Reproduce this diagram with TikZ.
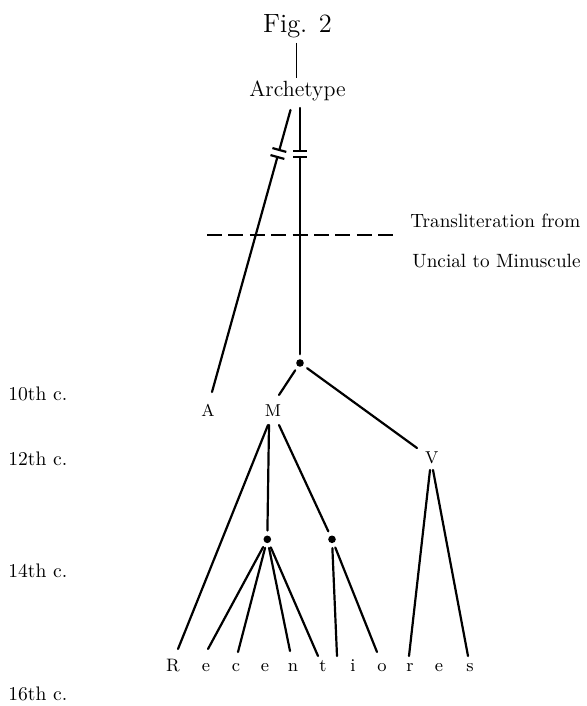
\documentclass[tikz,border=0pt]{standalone}
\usetikzlibrary{calc}
\tikzset{
  lbl/.style={inner sep=0pt, anchor=base},
  side/.style={inner sep=0pt, anchor=base west, font=\fontsize{9.8}{11}\selectfont},
  note/.style={inner sep=0pt, anchor=base west, font=\fontsize{9.6}{11}\selectfont},
  ms/.style={lbl, font=\fontsize{8.6}{10}\selectfont},
  leaf/.style={lbl, font=\fontsize{9}{10}\selectfont},
  wire/.style={line width=1.1pt, line cap=round},
  thinwire/.style={line width=0.7pt},
  brk/.style={line width=1.1pt},
  dashline/.style={line width=0.75pt, dash pattern=on 7.5pt off 3.2pt},
  knot/.style={circle, fill, inner sep=0pt, minimum size=3.8pt, outer sep=2.5pt},
}
\begin{document}
\begin{tikzpicture}[x=0.5pt,y=-0.5pt]
\useasboundingbox (0,0) rectangle (587,706);

% titles
\node[lbl, font=\fontsize{13.2}{15}\selectfont] (fig) at (297.5,33) {Fig. 2};
\node[lbl, font=\fontsize{11}{13}\selectfont] (arch) at (297.5,97) {Archetype};

% century scale
\node[side] (c10) at (8,400) {10th c.};
\node[side] (c12) at (8,465) {12th c.};
\node[side] (c14) at (8,577) {14th c.};
\node[side] (c16) at (8,700) {16th c.};

% transliteration note
\node[note] (tr1) at (410,227) {Transliteration from};
\node[note] (tr2) at (412,267) {Uncial to Minuscule};
\draw[dashline] (207,235) -- (393,235);

% manuscripts
\node[ms] (A) at (208,416) {A};
\node[ms] (M) at (273,416) {M};
\node[ms] (V) at (431.7,463) {V};

% hyparchetypes
\node[knot] (d1) at (300,363) {};
\node[knot] (d2) at (267.3,539.3) {};
\node[knot] (d3) at (332,539.3) {};

% recentiores
\node[leaf] (R)  at (173,671) {R};
\node[leaf] (e1) at (206,671) {e};
\node[leaf] (c)  at (236,671) {c};
\node[leaf] (e2) at (265,671) {e};
\node[leaf] (n)  at (293,671) {n};
\node[leaf] (t)  at (323,671) {t};
\node[leaf] (i)  at (353,671) {i};
\node[leaf] (o)  at (382,671) {o};
\node[leaf] (r)  at (410,671) {r};
\node[leaf] (e3) at (439,671) {e};
\node[leaf] (s)  at (470,671) {s};

% Fig. 2 -- Archetype
\draw[thinwire] ([shift={(-1,10)}]fig.base) -- ([shift={(-1,-19)}]arch.base);

% Archetype -- A, with break marks
\coordinate (aS) at ([shift={(-7,13)}]arch.base);
\coordinate (aE) at ([shift={(4,-24)}]A.base);
\coordinate (k1) at ($(aS)!0.1418!(aE)$);
\coordinate (k2) at ($(aS)!0.1667!(aE)$);
\draw[wire] (aS) -- (k1) (k2) -- (aE);
\draw[brk] ($(k1)!3.6pt!90:(aE)$) -- ($(k1)!3.6pt!-90:(aE)$);
\draw[brk] ($(k2)!3.6pt!90:(aE)$) -- ($(k2)!3.6pt!-90:(aE)$);

% Archetype -- first hyparchetype, with break marks
\coordinate (bS) at ($(d1 |- arch.base)+(0,11)$);
\coordinate (k3) at ($(d1 |- arch.base)+(0,53.7)$);
\coordinate (k4) at ($(d1 |- arch.base)+(0,60)$);
\draw[wire] (bS) -- (k3) (k4) -- (d1);
\draw[brk] ($(k3)+(-7,0)$) -- ($(k3)+(7,0)$);
\draw[brk] ($(k4)+(-7,0)$) -- ($(k4)+(7,0)$);

% first hyparchetype -- M, V
\draw[wire] (d1) -- ([shift={(6,-21)}]M.base);
\draw[wire] (d1) -- ([shift={(-14.7,-15)}]V.base);

% M -- R and the two lower hyparchetypes
\draw[wire] ([shift={(-5,9)}]M.base) -- ([shift={(5,-22)}]R.base);
\draw[wire] ([shift={(-4,9)}]M.base) -- (d2);
\draw[wire] ([shift={(6,9)}]M.base) -- (d3);

% lower hyparchetypes -- recentiores
\draw[wire] (d2) -- ([shift={(2,-22)}]e1.base);
\draw[wire] (d2) -- ([shift={(2,-19)}]c.base);
\draw[wire] (d2) -- ([shift={(-3,-20)}]n.base);
\draw[wire] (d2) -- ([shift={(-5,-15)}]t.base);
\draw[wire] (d3) -- ([shift={(-16,-15)}]i.base);
\draw[wire] (d3) -- ([shift={(-5,-19)}]o.base);

% V -- recentiores
\draw[wire] ([shift={(-1.7,7)}]V.base) -- ([shift={(-1,-15)}]r.base);
\draw[wire] ([shift={(1.3,7)}]V.base) -- ([shift={(-2,-15)}]s.base);
\end{tikzpicture}
\end{document}
